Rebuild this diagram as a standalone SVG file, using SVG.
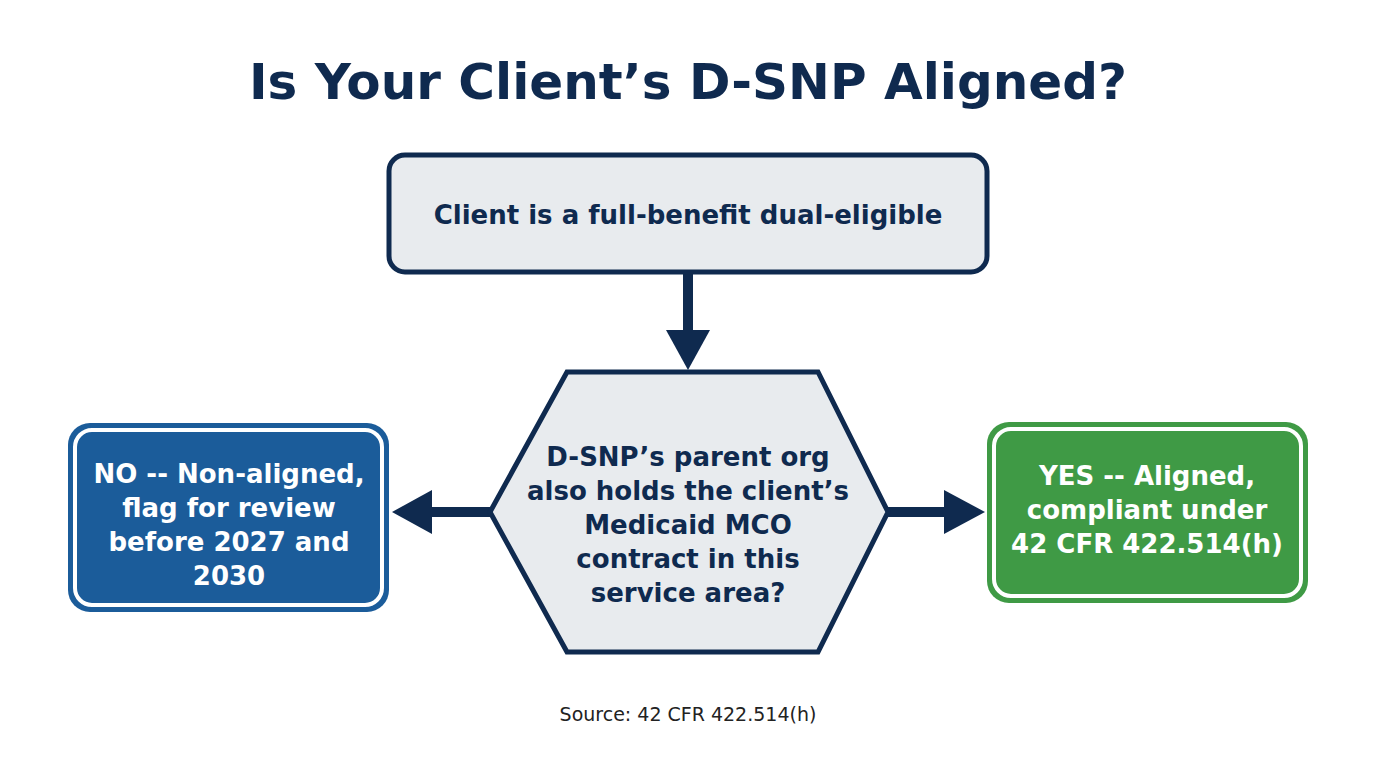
<svg xmlns="http://www.w3.org/2000/svg" width="1376" height="768" viewBox="0 0 1376 768">
<style>
text{font-family:"DejaVu Sans","Liberation Sans",sans-serif;text-anchor:middle}
.t{font-weight:700;font-size:50px;fill:#0f2a4f}
.d{font-weight:700;font-size:26px;fill:#0f2a4f}
.w{font-weight:700;font-size:26px;fill:#fff}
.s{font-size:19px;fill:#222}
.c{stroke:#0f2a4f;stroke-width:10;fill:none}
.h{fill:#0f2a4f}
</style>
<rect width="1376" height="768" fill="#fff"/>
<text class="t" x="688" y="99">Is Your Client’s D-SNP Aligned?</text>
<g id="connectors">
<line class="c" x1="688" y1="272" x2="688" y2="334"/>
<polygon class="h" points="666,330 710,330 688,370"/>
<line class="c" x1="490" y1="512" x2="428" y2="512"/>
<polygon class="h" points="392,512 432,490 432,534"/>
<line class="c" x1="888" y1="512" x2="948" y2="512"/>
<polygon class="h" points="985,512 944,490 944,534"/>
</g>
<g id="start">
<rect x="389" y="155" width="598" height="117" rx="16" fill="#e8ebee" stroke="#0f2a4f" stroke-width="5"/>
<text class="d" x="688" y="224">Client is a full-benefit dual-eligible</text>
</g>
<g id="decision">
<polygon points="567,372 818,372 888,512 818,652 567,652 490,512" fill="#e8ebee" stroke="#0f2a4f" stroke-width="5"/>
<text class="d" x="688" y="466">D-SNP’s parent org</text>
<text class="d" x="688" y="500">also holds the client’s</text>
<text class="d" x="688" y="534">Medicaid MCO</text>
<text class="d" x="688" y="568">contract in this</text>
<text class="d" x="688" y="602">service area?</text>
</g>
<g id="no">
<rect x="68" y="423" width="321" height="189" rx="22" fill="#1b5c9a"/>
<rect x="75" y="430" width="307" height="175" rx="17" fill="none" stroke="#fff" stroke-width="4"/>
<text class="w" x="229" y="483">NO -- Non-aligned,</text>
<text class="w" x="229" y="517">flag for review</text>
<text class="w" x="229" y="551">before 2027 and</text>
<text class="w" x="229" y="585">2030</text>
</g>
<g id="yes">
<rect x="987" y="422" width="321" height="181" rx="22" fill="#3f9a45"/>
<rect x="994" y="429" width="307" height="167" rx="17" fill="none" stroke="#fff" stroke-width="4"/>
<text class="w" x="1147" y="485">YES -- Aligned,</text>
<text class="w" x="1147" y="519">compliant under</text>
<text class="w" x="1147" y="553">42 CFR 422.514(h)</text>
</g>
<text class="s" x="688" y="721">Source: 42 CFR 422.514(h)</text>
</svg>
